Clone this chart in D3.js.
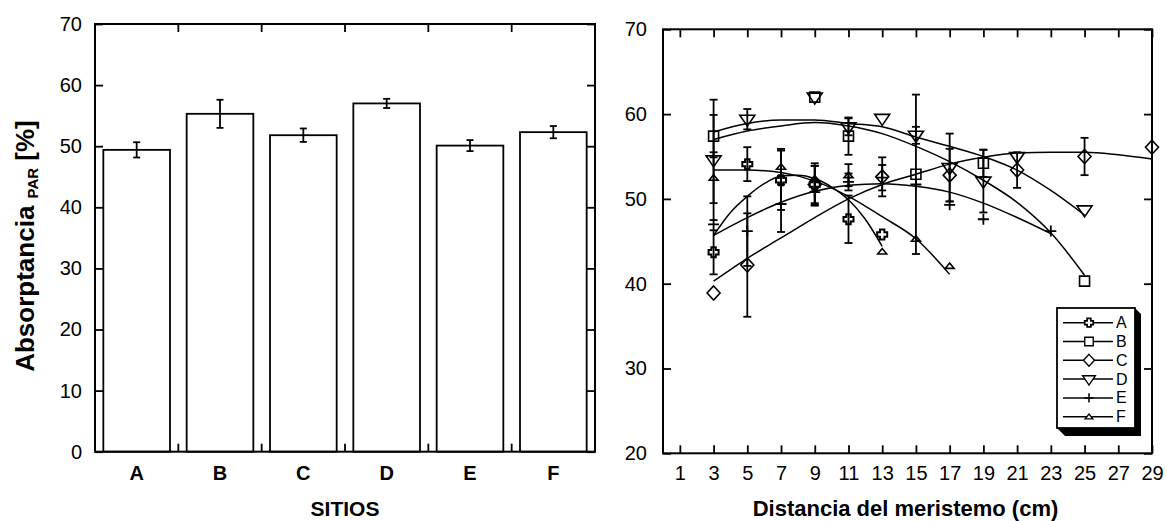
<!DOCTYPE html>
<html><head><meta charset="utf-8">
<script src="https://cdn.jsdelivr.net/npm/d3@7"></script>
<style>
body{margin:0;background:#fff;}
svg{display:block;font-family:"Liberation Sans",Arial,sans-serif;}
</style></head><body>
<svg id="chart" width="1167" height="521"></svg>
<script>
// ---------- data: left panel (bars) ----------
const sites = ["A","B","C","D","E","F"];
const siteMeans = [49.4, 55.3, 51.8, 57.0, 50.1, 52.3];
const siteErrors = [1.25, 2.3, 1.1, 0.75, 0.9, 1.0];
const barYTicks = [0,10,20,30,40,50,60,70];

// ---------- data: right panel ----------
const distTicks = [1,3,5,7,9,11,13,15,17,19,21,23,25,27,29];
const absTicks = [20,30,40,50,60,70];
const seriesNames = ["A","B","C","D","E","F"];

const xA = [3,5,7,9,11,13];
const yA = [43.7,54.1,52.2,51.7,47.6,45.8];
const eA = [2.6,2.0,3.5,2.5,2.8,0.3];
const xB = [3,9,11,15,19,25];
const yB = [57.4,62.0,57.4,52.9,54.2,40.3];
const eB = [2.5,0.3,2.2,9.4,1.6,0.3];
const xC = [3,5,9,13,17,21,25,29];
const yC = [38.9,42.2,51.7,52.6,52.8,53.4,55.0,56.1];
const eC = [0.2,6.1,2.2,2.3,3.1,2.1,2.2,0.2];
const xD = [3,5,9,11,13,15,17,19,21,25];
const yD = [54.6,59.4,62.0,58.5,59.5,57.5,53.7,52.1,55.0,48.7];
const eD = [7.1,1.2,0.2,1.0,0.4,1.0,4.0,3.7,0.2,0.2];
const xE = [3,5,7,9,11,13,15,17,19,23];
const yE = [47.0,46.2,49.4,50.8,52.0,52.5,51.7,49.3,47.6,46.2];
const eE = [0.3,4.1,3.3,1.5,1.0,1.5,0.5,0.5,0.3,0.3];
const xF = [3,7,9,11,13,15,17];
const yF = [52.5,53.8,52.4,52.8,43.8,45.3,42.1];
const eF = [3.0,2.1,1.5,1.3,0.2,0.3,0.2];

// fitted curves
const fitXA = [3,4,5,6,7,8,9,10,11,12,13];
const fitYA = [45.7,48.4,50.3,51.8,52.7,52.8,52.4,51.4,49.9,47.6,44.4];
const fitXB = [3,5,7,9,11,13,15,17,19,21,23,25];
const fitYB = [57.0,58.0,58.6,59.0,58.6,57.7,56.2,54.4,52.2,49.6,46.0,41.0];
const fitXC = [3,5,7,9,11,13,15,17,19,21,23,25,27,29];
const fitYC = [40.3,43.0,45.4,47.8,50.0,51.7,52.9,54.1,54.9,55.4,55.5,55.5,55.2,54.7];
const fitXD = [3,5,7,9,11,13,15,17,19,21,23,25];
const fitYD = [57.9,58.9,59.3,59.3,58.9,58.5,57.3,56.2,55.0,53.4,51.0,48.1];
const fitXE = [3,5,7,9,11,13,15,17,19,21,23];
const fitYE = [45.7,47.8,49.6,50.9,51.6,51.8,51.5,50.8,49.5,47.8,45.9];
const fitXF = [3,5,7,9,11,13,15,17];
const fitYF = [53.4,53.4,53.1,52.1,50.3,47.9,45.3,41.1];

// ---------- drawing ----------
const svg = d3.select("#chart");
svg.append("rect").attr("width",1167).attr("height",521).attr("fill","#fff");
const TICKFONT = 20;

// ===== Left panel =====
const L = {left:95, right:595, top:24, bottom:451.7};
const xBand = d3.scaleBand().domain(sites).range([L.left, L.right]).paddingInner(0.2).paddingOuter(0.1);
const yL = d3.scaleLinear().domain([0,70]).range([L.bottom, L.top]);
const gL = svg.append("g");

gL.selectAll("rect.bar").data(sites).join("rect")
  .attr("x", d => xBand(d)).attr("width", xBand.bandwidth())
  .attr("y", (d,i) => yL(siteMeans[i])).attr("height", (d,i) => yL(0) - yL(siteMeans[i]))
  .attr("fill","#fff").attr("stroke","#000").attr("stroke-width",1.8);

sites.forEach((s,i) => {
  const cx = xBand(s) + xBand.bandwidth()/2;
  const y1 = yL(siteMeans[i] - siteErrors[i]), y2 = yL(siteMeans[i] + siteErrors[i]);
  gL.append("line").attr("x1",cx).attr("x2",cx).attr("y1",y1).attr("y2",y2).attr("stroke","#000").attr("stroke-width",1.8);
  [y1,y2].forEach(y => gL.append("line").attr("x1",cx-3.5).attr("x2",cx+3.5).attr("y1",y).attr("y2",y).attr("stroke","#000").attr("stroke-width",1.8));
});

gL.append("rect").attr("x",L.left).attr("y",L.top).attr("width",L.right-L.left).attr("height",L.bottom-L.top)
  .attr("fill","none").attr("stroke","#000").attr("stroke-width",2);

const axL = gL.append("g").attr("transform",`translate(${L.left},0)`)
  .call(d3.axisLeft(yL).tickValues(barYTicks).tickSize(-8).tickPadding(13));
axL.select(".domain").remove();
axL.selectAll("line").attr("stroke","#000").attr("stroke-width",1.8);
axL.selectAll("text").attr("font-size",TICKFONT).attr("font-family","Liberation Sans, Arial, sans-serif").attr("fill","#000");
const axLR = gL.append("g").attr("transform",`translate(${L.right},0)`)
  .call(d3.axisRight(yL).tickValues(barYTicks).tickSize(-8).tickFormat(""));
axLR.select(".domain").remove();
axLR.selectAll("line").attr("stroke","#000").attr("stroke-width",1.8);

const step = xBand.step();
sites.slice(0,-1).forEach(s => {
  const bx = xBand(s) + xBand.bandwidth() + (step - xBand.bandwidth())/2;
  gL.append("line").attr("x1",bx).attr("x2",bx).attr("y1",L.top).attr("y2",L.top+8).attr("stroke","#000").attr("stroke-width",1.8);
  gL.append("line").attr("x1",bx).attr("x2",bx).attr("y1",L.bottom).attr("y2",L.bottom-8).attr("stroke","#000").attr("stroke-width",1.8);
});

gL.selectAll("text.cat").data(sites).join("text")
  .attr("x", d => xBand(d) + xBand.bandwidth()/2).attr("y",480)
  .attr("text-anchor","middle").attr("font-size",20).attr("font-weight","bold").text(d => d);

gL.append("text").attr("x",(L.left+L.right)/2).attr("y",516).attr("text-anchor","middle")
  .attr("font-size",21).attr("font-weight","bold").text("SITIOS");
const yt = gL.append("text").attr("transform","translate(34,246) rotate(-90)").attr("text-anchor","middle")
  .attr("font-size",26).attr("font-weight","bold");
yt.append("tspan").text("Absorptancia ");
yt.append("tspan").attr("font-size",15).attr("dy",4).text("PAR");
yt.append("tspan").attr("dy",-4).text(" [%]");

// ===== Right panel =====
const R = {left:663, right:1152, top:29.3, bottom:453.3};
const xR = d3.scaleLinear().domain([0,29]).range([R.left, R.right]);
const yR = d3.scaleLinear().domain([20,70]).range([R.bottom, R.top]);
const gR = svg.append("g");

gR.append("rect").attr("x",R.left).attr("y",R.top).attr("width",R.right-R.left).attr("height",R.bottom-R.top)
  .attr("fill","none").attr("stroke","#000").attr("stroke-width",2);

function styleTicks(g){ g.select(".domain").remove(); g.selectAll("line").attr("stroke","#000").attr("stroke-width",1.8); }
const ayl = gR.append("g").attr("transform",`translate(${R.left},0)`)
  .call(d3.axisLeft(yR).tickValues(absTicks).tickSize(-8).tickPadding(16));
styleTicks(ayl);
ayl.selectAll("text").attr("font-size",TICKFONT).attr("font-family","Liberation Sans, Arial, sans-serif").attr("fill","#000");
styleTicks(gR.append("g").attr("transform",`translate(${R.right},0)`)
  .call(d3.axisRight(yR).tickValues(absTicks).tickSize(-8).tickFormat("")));
const axb = gR.append("g").attr("transform",`translate(0,${R.bottom})`)
  .call(d3.axisBottom(xR).tickValues(distTicks).tickSize(-8).tickPadding(0).tickFormat(d3.format("d")));
styleTicks(axb);
axb.selectAll("text").attr("font-size",TICKFONT).attr("font-family","Liberation Sans, Arial, sans-serif").attr("fill","#000")
  .attr("y",27).attr("dy",0);
styleTicks(gR.append("g").attr("transform",`translate(0,${R.top})`)
  .call(d3.axisTop(xR).tickValues(distTicks).tickSize(-8).tickFormat("")));

gR.append("text").attr("x",(R.left+R.right)/2 - 2).attr("y",516).attr("text-anchor","middle")
  .attr("font-size",22).attr("font-weight","bold").text("Distancia del meristemo (cm)");

const markerPath = {
  A: "M-2.2,-5H2.2V-2.2H5V2.2H2.2V5H-2.2V2.2H-5V-2.2H-2.2Z",
  B: "M-5,-5H5V5H-5Z",
  C: "M0,-7L6.5,0L0,7L-6.5,0Z",
  D: "M-7.5,-4H7.5L0,7Z",
  E: "M-5.5,0H5.5M0,-5.5V5.5",
  F: "M-4.5,2.5H4.5L0,-3Z"
};
const markerWidth = {A:2.0, B:1.6, C:1.6, D:1.6, E:1.8, F:1.6};

const series = [
  {name:"A", x:xA, y:yA, e:eA, fx:fitXA, fy:fitYA},
  {name:"B", x:xB, y:yB, e:eB, fx:fitXB, fy:fitYB},
  {name:"C", x:xC, y:yC, e:eC, fx:fitXC, fy:fitYC},
  {name:"D", x:xD, y:yD, e:eD, fx:fitXD, fy:fitYD},
  {name:"E", x:xE, y:yE, e:eE, fx:fitXE, fy:fitYE},
  {name:"F", x:xF, y:yF, e:eF, fx:fitXF, fy:fitYF}
];

const line = d3.line().x(d => xR(d[0])).y(d => yR(d[1])).curve(d3.curveMonotoneX);
series.forEach(s => {
  gR.append("path").attr("d", line(s.fx.map((v,i) => [v, s.fy[i]])))
    .attr("fill","none").attr("stroke","#000").attr("stroke-width",1.5);
});
series.forEach(s => {
  s.x.forEach((xv,i) => {
    const cx = xR(xv), y1 = yR(s.y[i]-s.e[i]), y2 = yR(s.y[i]+s.e[i]);
    if (s.e[i] > 0.5) {
      gR.append("line").attr("x1",cx).attr("x2",cx).attr("y1",y1).attr("y2",y2).attr("stroke","#000").attr("stroke-width",1.8);
      [y1,y2].forEach(y => gR.append("line").attr("x1",cx-4).attr("x2",cx+4).attr("y1",y).attr("y2",y).attr("stroke","#000").attr("stroke-width",1.8));
    }
  });
});
series.forEach(s => {
  s.x.forEach((xv,i) => {
    gR.append("path").attr("d", markerPath[s.name]).attr("transform",`translate(${xR(xv)},${yR(s.y[i])})`)
      .attr("fill","none").attr("stroke","#000").attr("stroke-width",markerWidth[s.name]);
  });
});

// legend
const lg = {x0:1057, x1:1135, y0:308, y1:428};
gR.append("path").attr("d",`M${lg.x1},${lg.y0}L${lg.x1+6},${lg.y0+6}L${lg.x1+6},${lg.y1+8}L${lg.x0+8},${lg.y1+8}L${lg.x0},${lg.y1}L${lg.x1},${lg.y1}Z`).attr("fill","#000");
gR.append("rect").attr("x",lg.x0).attr("y",lg.y0).attr("width",lg.x1-lg.x0).attr("height",lg.y1-lg.y0)
  .attr("fill","#fff").attr("stroke","#000").attr("stroke-width",1.8);
seriesNames.forEach((n,i) => {
  const ly = 322.7 + i*18.8;
  gR.append("line").attr("x1",1063).attr("x2",1113).attr("y1",ly).attr("y2",ly).attr("stroke","#000").attr("stroke-width",1.5);
  gR.append("path").attr("d", markerPath[n]).attr("transform",`translate(1089,${ly}) scale(0.85)`)
    .attr("fill", n==="E" ? "none" : "#fff").attr("stroke","#000").attr("stroke-width",markerWidth[n]);
  gR.append("text").attr("x",1116).attr("y",ly+5.5).attr("font-size",16).text(n);
});
</script>
</body></html>
